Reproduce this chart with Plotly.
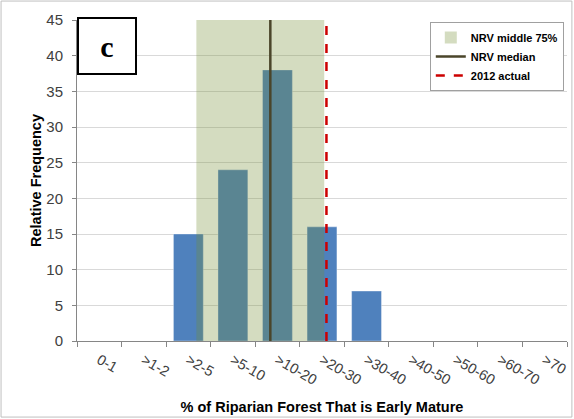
import plotly.graph_objects as go

categories = ["0-1", ">1-2", ">2-5", ">5-10", ">10-20", ">20-30", ">30-40",
              ">40-50", ">50-60", ">60-70", ">70"]
frequency = [0, 0, 15, 24, 38, 16, 7, 0, 0, 0, 0]

# NRV statistics expressed on the category-index scale
nrv_low = 2.18
nrv_high = 5.05
nrv_median = 3.84
actual_2012 = 5.1
y_max = 45

idx = list(range(len(categories)))
font_main = "Liberation Sans"

fig = go.Figure()
fig.add_trace(go.Bar(
    x=idx, y=frequency, width=0.67,
    marker=dict(color="#4f81bd", line=dict(color="rgba(255,255,255,0.35)", width=1)),
    showlegend=False, hoverinfo="skip",
))

fig.add_shape(type="rect", x0=nrv_low, x1=nrv_high, y0=0, y1=y_max,
              xref="x", yref="y", fillcolor="rgba(117,143,53,0.31)",
              line=dict(width=0), layer="above",
              showlegend=True, name="NRV middle 75%", legendrank=1)
fig.add_shape(type="line", x0=nrv_median, x1=nrv_median, y0=0, y1=y_max,
              xref="x", yref="y", line=dict(color="#4a452a", width=2.5),
              layer="above", showlegend=True, name="NRV median", legendrank=2)
fig.add_shape(type="line", x0=actual_2012, x1=actual_2012, y0=0, y1=y_max,
              xref="x", yref="y", line=dict(color="#cc0000", width=2.5, dash="dash"),
              layer="above", showlegend=True, name="2012 actual", legendrank=3)

# outer chart border
fig.add_shape(type="rect", xref="paper", yref="paper",
              x0=-0.155, x1=1.010, y0=-0.237, y1=1.059,
              line=dict(color="#bfbfbf", width=1), fillcolor="rgba(0,0,0,0)", layer="below")

fig.add_annotation(text="<b>c</b>", xref="paper", yref="paper", x=0.0, y=1.01,
                   xanchor="left", yanchor="top", showarrow=False,
                   font=dict(family="Liberation Serif", size=30, color="black"),
                   bordercolor="black", borderwidth=2, bgcolor="white",
                   width=54, height=52, align="center", valign="middle")

fig.update_layout(
    width=574, height=419,
    margin=dict(l=77, r=7, t=20, b=78),
    paper_bgcolor="white", plot_bgcolor="white",
    font=dict(family=font_main, color="#404040", size=14),
    legend=dict(x=0.72, y=0.994, xanchor="left", yanchor="top",
                bordercolor="#a0a0a0", borderwidth=1, bgcolor="white",
                font=dict(family=font_main, size=11, color="black", weight="bold"),
                tracegroupgap=2, itemwidth=30),
    xaxis=dict(
        range=[-0.5, len(categories) - 0.5], automargin=False,
        tickmode="array", tickvals=idx, ticktext=categories, tickangle=30,
        ticks="", showgrid=False, zeroline=False,
        showline=True, linecolor="#868686", linewidth=1,
        tickfont=dict(size=14.5, color="#404040"), ticklabelstandoff=4,
        minor=dict(tick0=-0.5, dtick=1, ticks="outside", ticklen=5,
                   tickcolor="#868686", showgrid=False),
        title=dict(text="<b>% of Riparian Forest That is Early Mature</b>",
                   font=dict(size=14.5, color="black")),
    ),
    yaxis=dict(
        range=[0, y_max], dtick=5, ticks="outside", ticklen=4, tickcolor="#868686",
        automargin=True,
        showgrid=True, gridcolor="#d9d9d9", zeroline=False,
        showline=True, linecolor="#868686", linewidth=1,
        tickfont=dict(size=15, color="#404040"), ticklabelstandoff=6,
        title=dict(text="<b>Relative Frequency</b>", font=dict(size=14.5, color="black"),
                   standoff=1),
    ),
    bargap=0.33,
)

fig.write_html("out.html", config={"displayModeBar": False},
               post_script="document.body.style.margin='0';document.body.style.padding='0';")
